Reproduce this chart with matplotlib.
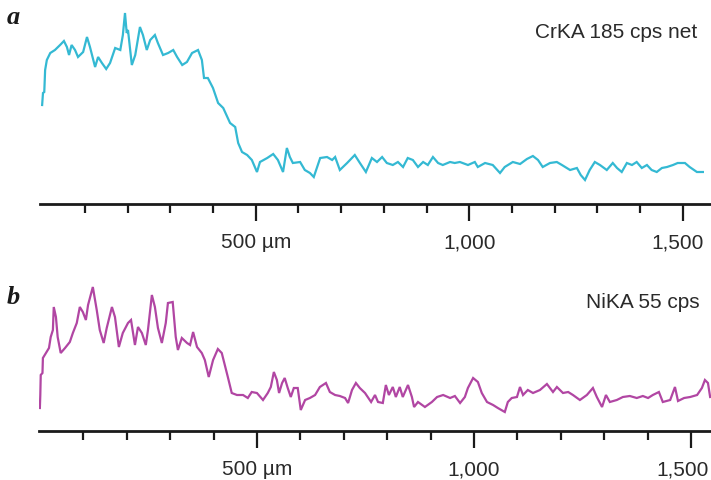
import matplotlib
matplotlib.use("Agg")
import matplotlib.pyplot as plt
import matplotlib.transforms as mtransforms

# ---------------- data ----------------
# Panel a: Cr K-alpha line scan (distance in µm, intensity in arbitrary units)
cr_dist = [0, 2, 5, 7, 11, 19, 30, 42, 51, 58, 63, 69, 77, 84, 96, 105, 112, 124, 131, 140,
           150, 159, 171, 183, 189, 194, 198, 201, 210, 218, 229, 236, 245, 253, 264, 271, 283, 295, 307, 316,
           328, 339, 351, 365, 374, 379, 388, 400, 412, 424, 440, 452, 459, 468, 480, 491, 503, 510, 527, 541,
           552, 564, 573, 580, 587, 604, 615, 627, 636, 651, 667, 679, 686, 697, 714, 732, 744, 758, 772, 784,
           796, 807, 821, 833, 845, 856, 868, 880, 892, 903, 915, 927, 938, 955, 966, 978, 997, 1013, 1020, 1037,
           1055, 1072, 1083, 1102, 1119, 1135, 1149, 1161, 1172, 1189, 1205, 1217, 1236, 1252, 1261, 1271, 1282, 1294, 1306, 1322,
           1336, 1346, 1357, 1369, 1381, 1392, 1404, 1416, 1427, 1439, 1451, 1463, 1477, 1488, 1505, 1516, 1533, 1547]
cr_int = [99, 111, 112, 134, 144, 151, 154, 159, 163, 157, 149, 159, 154, 147, 152, 167, 157, 137, 147, 141,
          135, 141, 156, 154, 169, 191, 171, 174, 139, 149, 177, 169, 154, 164, 169, 161, 149, 151, 154, 147,
          139, 142, 151, 154, 144, 126, 126, 116, 101, 96, 81, 77, 61, 52, 49, 44, 32, 42, 46, 50,
          44, 32, 56, 47, 41, 42, 34, 31, 27, 46, 47, 44, 47, 34, 41, 49, 41, 32, 46, 42,
          47, 41, 39, 42, 37, 46, 44, 37, 42, 39, 47, 41, 39, 42, 41, 42, 39, 42, 37, 41,
          39, 31, 37, 42, 40, 45, 48, 44, 37, 41, 42, 39, 34, 36, 29, 24, 34, 42, 39, 34,
          41, 36, 32, 41, 39, 42, 36, 39, 34, 32, 36, 37, 39, 41, 41, 37, 32, 32]

# Panel b: Ni K-alpha line scan
ni_dist = [0, 1, 2, 6, 7, 14, 21, 25, 30, 32, 37, 41, 48, 58, 69, 76, 85, 92, 99, 106,
           111, 122, 127, 131, 138, 147, 154, 166, 173, 182, 191, 203, 210, 219, 226, 235, 244, 249, 258, 265,
           272, 281, 290, 295, 306, 313, 318, 327, 339, 346, 353, 362, 373, 380, 389, 399, 410, 419, 426, 433,
           442, 454, 468, 479, 488, 500, 514, 525, 532, 539, 546, 551, 558, 564, 571, 578, 585, 594, 601, 611,
           622, 634, 645, 659, 668, 680, 691, 703, 710, 719, 728, 737, 749, 763, 772, 779, 790, 797, 804, 813,
           820, 829, 836, 848, 857, 862, 871, 887, 903, 915, 929, 945, 956, 968, 979, 986, 998, 1009, 1018, 1030,
           1044, 1055, 1071, 1078, 1087, 1099, 1106, 1113, 1124, 1136, 1152, 1168, 1182, 1191, 1205, 1217, 1228, 1244, 1260, 1274,
           1283, 1295, 1304, 1313, 1329, 1343, 1359, 1375, 1389, 1401, 1412, 1426, 1435, 1452, 1463, 1470, 1484, 1498, 1514, 1525,
           1532, 1539, 1544]
ni_int = [23, 36, 56, 58, 73, 78, 83, 94, 101, 124, 114, 94, 78, 83, 89, 98, 108, 124, 119, 111,
          126, 144, 131, 121, 101, 88, 103, 124, 114, 84, 98, 108, 111, 86, 104, 98, 86, 101, 136, 124,
          103, 88, 108, 128, 129, 94, 81, 93, 88, 86, 99, 84, 78, 71, 54, 71, 82, 78, 66, 54,
          38, 36, 36, 33, 39, 38, 31, 38, 44, 59, 51, 38, 48, 53, 43, 34, 43, 43, 21, 31,
          33, 36, 44, 48, 39, 36, 35, 33, 28, 41, 48, 43, 38, 29, 36, 29, 28, 46, 36, 44,
          34, 44, 34, 46, 34, 24, 29, 24, 29, 34, 36, 33, 35, 28, 34, 43, 53, 49, 38, 29,
          26, 23, 19, 29, 33, 34, 44, 36, 41, 38, 41, 47, 39, 44, 38, 39, 36, 31, 36, 43,
          34, 24, 36, 29, 31, 34, 35, 33, 35, 33, 36, 39, 29, 31, 44, 30, 33, 34, 36, 43,
          51, 48, 34]

major_ticks = [500, 1000, 1500]
major_labels = ["500 µm", "1,000", "1,500"]
minor_ticks = [100, 200, 300, 400, 600, 700, 800, 900, 1100, 1200, 1300, 1400]

panel_letters = ["a", "b"]
panel_titles = ["CrKA 185 cps net", "NiKA 55 cps"]

# ---------------- figure ----------------
W, H = 711, 480
fig = plt.figure(figsize=(W / 100, H / 100), dpi=100)
plt.rcParams['font.family'] = ['Liberation Sans', 'DejaVu Sans']

def px_axes(left, top, right, bottom):
    return fig.add_axes([left / W, 1 - bottom / H, (right - left) / W, (bottom - top) / H])

ax_a = px_axes(40, 5, 711, 204)
ax_b = px_axes(39, 275, 711, 431)

cyan = "#34b9d3"
magenta = "#b146a3"

ax_a.plot(cr_dist, cr_int, color=cyan, lw=1.6, solid_joinstyle='miter')
ax_b.plot(ni_dist, ni_int, color=magenta, lw=1.6, solid_joinstyle='miter')

ax_a.set_xlim(-5, 1566)
ax_a.set_ylim(0, 199)
ax_b.set_xlim(-2, 1546)
ax_b.set_ylim(0, 156)

for ax, shift in ((ax_a, -5), (ax_b, -8)):
    for s in ("top", "left", "right"):
        ax.spines[s].set_visible(False)
    ax.spines["bottom"].set_linewidth(2.0)
    ax.spines["bottom"].set_color("#1a1a1a")
    ax.set_yticks([])
    ax.set_xticks(major_ticks)
    ax.set_xticklabels(major_labels)
    ax.set_xticks(minor_ticks, minor=True)
    ax.tick_params(axis="x", which="major", direction="out", length=12, width=1.6,
                   color="#1a1a1a", pad=9, labelsize=15, labelcolor="#2a2a2a")
    ax.tick_params(axis="x", which="minor", direction="out", length=6.5, width=1.6,
                   color="#1a1a1a")
    ax.patch.set_alpha(0)
    last = ax.get_xticklabels()[-1]
    last.set_transform(last.get_transform() +
                       mtransforms.ScaledTranslation(shift / 100, 0, fig.dpi_scale_trans))

# panel letters
fig.text(7 / W, 1 - 17 / H, panel_letters[0], fontsize=19, fontweight="bold", fontstyle="italic",
         family=["Liberation Serif", "DejaVu Serif"], ha="left", va="center", color="#1a1a1a")
fig.text(7 / W, 1 - 297 / H, panel_letters[1], fontsize=19, fontweight="bold", fontstyle="italic",
         family=["Liberation Serif", "DejaVu Serif"], ha="left", va="center", color="#1a1a1a")

# panel titles
fig.text(697 / W, 1 - 32 / H, panel_titles[0], fontsize=15, ha="right", va="center", color="#2a2a2a")
fig.text(700 / W, 1 - 302 / H, panel_titles[1], fontsize=15, ha="right", va="center", color="#2a2a2a")

fig.savefig("out.png", dpi=100)
